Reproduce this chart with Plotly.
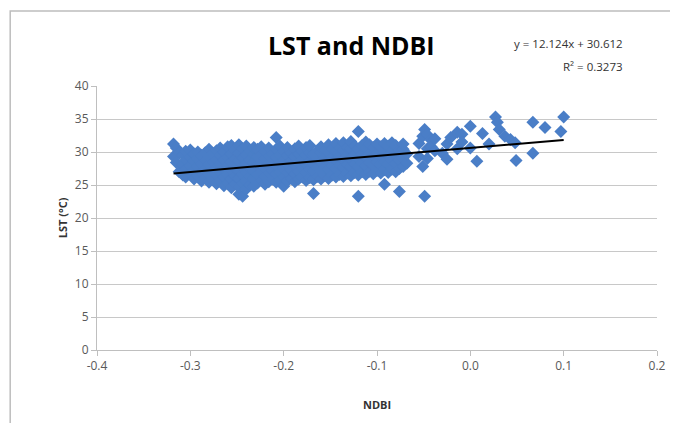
import plotly.graph_objects as go

# ---- data ----
cols = [
    (-0.318, [29.3, 31.2]),
    (-0.315, [30.6, 28.4]),
    (-0.312, [27.0, 29.8]),
    (-0.308, [26.5, 28.0, 29.6]),
    (-0.305, [27.4, 28.8, 30.1, 26.2]),
    (-0.300, [26.8, 27.9, 29.2, 30.3]),
    (-0.296, [25.9, 27.3, 28.6, 29.7]),
    (-0.292, [26.4, 27.8, 29.0, 30.0]),
    (-0.288, [25.6, 26.9, 28.3, 29.5]),
    (-0.284, [26.1, 27.5, 28.7, 29.9]),
    (-0.280, [25.4, 26.7, 28.0, 29.3, 30.4]),
    (-0.276, [25.8, 27.1, 28.5, 29.8]),
    (-0.272, [25.2, 26.5, 27.7, 28.9, 30.2]),
    (-0.268, [25.6, 26.9, 28.2, 29.5, 30.6]),
    (-0.264, [24.9, 26.2, 27.4, 28.8, 30.0]),
    (-0.260, [25.3, 26.6, 27.9, 29.2, 30.8]),
    (-0.256, [24.6, 25.9, 27.2, 28.5, 29.7, 31.0]),
    (-0.252, [25.1, 26.4, 27.6, 28.9, 30.3]),
    (-0.248, [23.6, 24.7, 26.0, 27.3, 28.6, 29.9, 31.1]),
    (-0.244, [23.3, 25.2, 26.6, 27.8, 29.1, 30.5]),
    (-0.240, [24.4, 25.6, 26.9, 28.2, 29.6, 30.9]),
    (-0.236, [25.0, 26.3, 27.5, 28.8, 30.1]),
    (-0.232, [24.8, 26.0, 27.2, 28.4, 29.7, 30.7]),
    (-0.228, [25.3, 26.6, 27.9, 29.3, 30.4]),
    (-0.224, [25.7, 27.0, 28.3, 29.6, 30.8]),
    (-0.220, [25.1, 26.4, 27.6, 28.9, 30.2]),
    (-0.216, [25.5, 26.8, 28.1, 29.4, 30.6]),
    (-0.212, [25.9, 27.2, 28.5, 29.8]),
    (-0.208, [25.4, 26.7, 28.0, 29.2, 30.4, 32.2]),
    (-0.204, [25.8, 27.0, 28.3, 29.6, 30.9]),
    (-0.200, [24.8, 26.2, 27.5, 28.8, 30.1]),
    (-0.196, [25.6, 26.9, 28.2, 29.5, 30.7]),
    (-0.192, [26.0, 27.3, 28.6, 29.9]),
    (-0.188, [25.5, 26.7, 28.0, 29.3, 30.5]),
    (-0.184, [25.9, 27.1, 28.4, 29.7, 30.9]),
    (-0.180, [26.2, 27.5, 28.8, 30.1]),
    (-0.176, [25.7, 26.9, 28.2, 29.5, 30.7]),
    (-0.172, [26.1, 27.4, 28.6, 29.9, 31.0]),
    (-0.168, [23.7, 25.8, 27.0, 28.3, 29.6]),
    (-0.164, [26.3, 27.6, 28.9, 30.2]),
    (-0.160, [25.9, 27.2, 28.5, 29.8, 30.8]),
    (-0.156, [26.4, 27.7, 29.0, 30.3]),
    (-0.152, [26.0, 27.3, 28.7, 30.0, 31.1]),
    (-0.148, [26.5, 27.9, 29.2, 30.5]),
    (-0.144, [26.2, 27.5, 28.8, 30.1, 31.3]),
    (-0.140, [26.6, 28.0, 29.3, 30.6]),
    (-0.136, [26.3, 27.6, 28.9, 30.2, 31.4]),
    (-0.132, [26.8, 28.1, 29.4, 30.7]),
    (-0.128, [26.4, 27.7, 29.0, 30.4, 31.6]),
    (-0.124, [26.9, 28.2, 29.6, 30.9]),
    (-0.120, [23.3, 26.5, 27.8, 29.1, 30.5, 33.1]),
    (-0.116, [27.0, 28.3, 29.7, 31.0]),
    (-0.112, [26.6, 27.9, 29.2, 30.6, 31.5]),
    (-0.108, [27.1, 28.4, 29.8, 31.1]),
    (-0.104, [26.7, 28.0, 29.3, 30.7]),
    (-0.100, [27.2, 28.5, 29.9, 31.2]),
    (-0.096, [26.8, 28.1, 29.4, 30.8]),
    (-0.092, [25.1, 27.3, 28.6, 30.0, 31.3]),
    (-0.088, [26.9, 28.2, 29.5, 30.9]),
    (-0.084, [27.4, 28.7, 30.1, 31.4]),
    (-0.080, [27.0, 28.3, 29.6, 31.0]),
    (-0.076, [24.0, 27.5, 28.8, 30.2]),
    (-0.072, [27.8, 29.1, 30.4, 31.2]),
    (-0.068, [28.3, 29.7]),
    (-0.055, [29.3, 31.3]),
    (-0.051, [27.8, 32.4]),
    (-0.049, [33.4, 23.3]),
    (-0.046, [32.6, 30.5, 29.0]),
    (-0.042, [31.8, 30.8]),
    (-0.038, [30.2, 32.0]),
    (-0.030, [29.8]),
    (-0.025, [28.9, 31.2]),
    (-0.021, [32.2]),
    (-0.014, [33.0, 30.5]),
    (-0.009, [32.7, 31.5]),
    (0.000, [33.9, 30.6]),
    (0.007, [28.6]),
    (0.013, [32.8]),
    (0.020, [31.2]),
    (0.027, [35.3]),
    (0.029, [34.5]),
    (0.031, [33.4]),
    (0.037, [32.4]),
    (0.043, [31.9]),
    (0.048, [31.4]),
    (0.049, [28.7]),
    (0.067, [34.5, 29.8]),
    (0.080, [33.7]),
    (0.097, [33.1]),
    (0.100, [35.3]),
]
ndbi = [c[0] for c in cols for _ in c[1]]
lst = [v for c in cols for v in c[1]]

slope = 12.124
intercept = 30.612
r2 = 0.3273

x_ticks = [-0.4, -0.3, -0.2, -0.1, 0.0, 0.1, 0.2]
y_ticks = [0, 5, 10, 15, 20, 25, 30, 35, 40]
x_ticktext = [f"{v:.1f}" for v in x_ticks]

xmin, xmax = min(ndbi), max(ndbi)

fig = go.Figure()
fig.add_trace(go.Scatter(
    x=ndbi, y=lst, mode="markers",
    marker=dict(symbol="diamond", size=10, color="#4A7EC7", line=dict(width=0)),
    showlegend=False, hoverinfo="skip"))
fig.add_trace(go.Scatter(
    x=[xmin, xmax], y=[slope * xmin + intercept, slope * xmax + intercept],
    mode="lines", line=dict(color="black", width=2), showlegend=False))

font = "Open Sans, Liberation Sans, sans-serif"
fig.update_layout(
    width=670, height=415,
    margin=dict(l=89, r=19, t=78, b=73),
    paper_bgcolor="white", plot_bgcolor="white",
    font=dict(family=font, color="#595959", size=11),
    xaxis=dict(range=[-0.4, 0.2], tickvals=x_ticks, ticktext=x_ticktext,
               showgrid=False, zeroline=False, showline=True, linecolor="#BFBFBF",
               linewidth=1, ticks="outside", ticklen=5, tickcolor="#BFBFBF",
               tickfont=dict(size=12, color="#595959")),
    yaxis=dict(range=[0, 40], tickvals=y_ticks, showgrid=True, gridcolor="#C8C8C8",
               gridwidth=1, zeroline=False, showline=True, linecolor="#BFBFBF",
               ticks="outside", ticklen=5, tickcolor="#BFBFBF",
               tickfont=dict(size=12, color="#595959")),
    shapes=[dict(type="rect", xref="paper", yref="paper",
                 x0=-0.155, x1=1.1, y0=-0.35, y1=1.284,
                 line=dict(color="#BDBDBD", width=1.5), fillcolor="rgba(0,0,0,0)", layer="below")],
    annotations=[
        dict(text="<b>LST and NDBI</b>", xref="paper", yref="paper", x=0.454, y=1.155,
             xanchor="center", yanchor="middle", showarrow=False,
             font=dict(size=25, color="black", family=font)),
        dict(text=f"y = {slope}x + {intercept}", xref="paper", yref="paper", x=0.943, y=1.16,
             xanchor="right", yanchor="middle", showarrow=False,
             font=dict(size=11.5, color="#333333", family=font)),
        dict(text=f"R² = {r2}", xref="paper", yref="paper", x=0.943, y=1.072,
             xanchor="right", yanchor="middle", showarrow=False,
             font=dict(size=11.5, color="#333333", family=font)),
        dict(text="<b>LST (°C)</b>", xref="paper", yref="paper", x=-0.062, y=0.5,
             xanchor="center", yanchor="middle", textangle=-90, showarrow=False,
             font=dict(size=11, color="#333333", family=font)),
        dict(text="<b>NDBI</b>", xref="paper", yref="paper", x=0.5, y=-0.208,
             xanchor="center", yanchor="middle", showarrow=False,
             font=dict(size=11, color="#333333", family=font)),
    ],
)
fig.write_html("out.html")
